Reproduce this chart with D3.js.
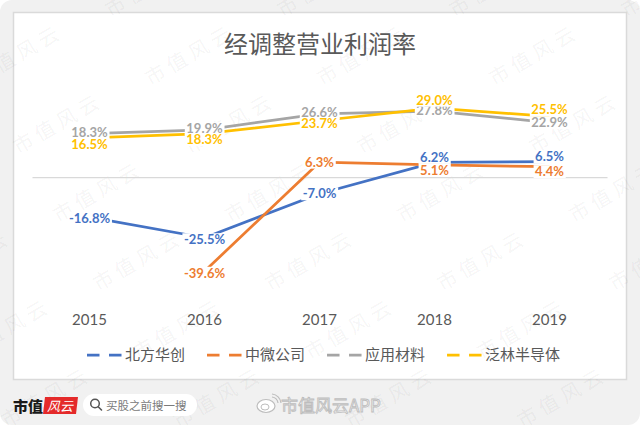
<!DOCTYPE html>
<html>
<head>
<meta charset="utf-8">
<script src="https://cdn.jsdelivr.net/npm/d3@7"></script>
<style>
  body { margin: 0; background: #fff; }
  svg { display: block; }
</style>
</head>
<body>
<div id="chart"></div>
<script>
// data
var years = ["2015", "2016", "2017", "2018", "2019"];
var names = ["北方华创", "中微公司", "应用材料", "泛林半导体"];
var naura = [-16.8, -25.5, -7.0, 6.2, 6.5];
var amec = [null, -39.6, 6.3, 5.1, 4.4];
var amat = [18.3, 19.9, 26.6, 27.8, 22.9];
var lam = [16.5, 18.3, 23.7, 29.0, 25.5];
var allSeries = [naura, amec, amat, lam];

// colours (excel office palette)
var colors = ["#4472C4", "#ED7D31", "#A5A5A5", "#FFC000"];
// label nudges so they sit like the original
var labelDy = [
    [1, 2, 0, -5, -5],
    [0, 2, 0, 5, 5],
    [-1, -1, -1, -1, 0],
    [7, 6, 3, -8, -7]
];

var W = 640, H = 425;
var svg = d3.select("#chart").append("svg")
    .attr("width", W).attr("height", H);

// outer grey panel + white chart box
svg.append("rect").attr("x", 0).attr("y", 0).attr("width", W).attr("height", H)
    .attr("rx", 12).attr("fill", "#f1f1f1");
svg.append("rect").attr("x", 13.5).attr("y", 12.5).attr("width", 613).attr("height", 367)
    .attr("fill", "#fff").attr("stroke", "#dadada").attr("stroke-width", 1.5);

// watermark tiles
var wm = svg.append("g");
for (var j = -1; j <= 6; j++) {
    for (var i = -3; i <= 3; i++) {
        var cx = 190 + 40 * j + 172 * i, cy = 55 + 68.5 * j;
        if (cx < -60 || cx > 700) continue;
        wm.append("text")
            .attr("transform", "translate(" + cx + "," + cy + ") rotate(-30)")
            .attr("text-anchor", "middle")
            .attr("dy", "0.35em")
            .style("font-family", "'Noto Sans CJK SC'")
            .style("font-size", "20px")
            .style("letter-spacing", "5px")
            .style("fill", "#000")
            .style("fill-opacity", 0.055)
            .text("市值风云");
    }
}

// title
svg.append("text")
    .attr("x", 320).attr("y", 53)
    .attr("text-anchor", "middle")
    .style("font-family", "'Noto Sans CJK SC'")
    .style("font-size", "24px")
    .style("fill", "#595959")
    .text("经调整营业利润率");

//scale
var xScale = d3.scaleBand().domain(years).range([32, 607]).padding(0);
var yScale = d3.scaleLinear().domain([-50, 40]).range([296, 82]);
var xc = function (d) { return xScale(d) + xScale.bandwidth() / 2; };

// zero line
svg.append("g")
    .attr("transform", "translate(0," + yScale(0) + ")")
    .call(d3.axisBottom(xScale).tickSize(0).tickFormat(""))
    .call(function (g) { g.select(".domain").attr("stroke", "#d9d9d9").attr("stroke-width", 1.3); });

// year labels at the bottom
var xAxis = svg.append("g")
    .attr("transform", "translate(0,311)")
    .call(d3.axisBottom(xScale).tickSize(0).tickPadding(3));
xAxis.select(".domain").remove();
xAxis.selectAll("text")
    .style("font-family", "Lato")
    .style("font-size", "15px")
    .style("fill", "#595959");

//make line
var line = d3.line()
    .defined(function (d) { return d.value != null; })
    .x(function (d) { return xc(d.name); })
    .y(function (d) { return yScale(d.value); });

var all = allSeries.map(function (vals, k) {
    return { name: names[k], values: years.map(function (y, i) { return { name: y, value: vals[i], dy: labelDy[k][i] }; }) };
});

all.forEach(function (s, k) {
    svg.append("path")
        .datum(s.values)
        .attr("d", line)
        .style("fill", "none")
        .style("stroke", colors[k])
        .style("stroke-width", 2.75)
        .style("stroke-linejoin", "round");
});

// data labels with white box behind (hides the line under them)
all.forEach(function (s, k) {
    s.values.forEach(function (d) {
        if (d.value == null) return;
        var g = svg.append("g")
            .attr("transform", "translate(" + xc(d.name) + "," + (yScale(d.value) + d.dy) + ")");
        var bg = g.append("rect").attr("fill", "#fff");
        var t = g.append("text")
            .attr("text-anchor", "middle")
            .attr("y", 4.6)
            .style("font-family", "Lato")
            .style("font-weight", "bold")
            .style("font-size", "13px")
            .style("fill", colors[k])
            .text(d.value.toFixed(1) + "%");
        var b = t.node().getBBox();
        bg.attr("x", b.x - 1.5).attr("y", -6.5).attr("width", b.width + 3).attr("height", 13);
    });
});

//legend
var lx = 87;
names.forEach(function (n, k) {
    var g = svg.append("g").attr("transform", "translate(" + lx + ",355)");
    g.append("line")
        .attr("x1", 0).attr("x2", 35).attr("y1", 0).attr("y2", 0)
        .style("stroke", colors[k])
        .style("stroke-width", 2.75)
        .style("stroke-dasharray", "12.5,9.5");
    var t = g.append("text")
        .attr("x", 38).attr("y", 5.3)
        .style("font-family", "'Noto Sans CJK SC'")
        .style("font-size", "15px")
        .style("fill", "#595959")
        .text(n);
    lx += 38 + t.node().getComputedTextLength() + 22;
});

// footer: logo, search pill, weibo mark
svg.append("text")
    .attr("x", 13).attr("y", 411.5)
    .style("font-family", "'Noto Sans CJK SC'")
    .style("font-weight", "900")
    .style("font-size", "15px")
    .style("fill", "#1a1a1a")
    .text("市值");
svg.append("path")
    .attr("d", "M45,397 L78,397 L76,414 L43,414 Z")
    .attr("fill", "#e42a2a");
svg.append("text")
    .attr("x", 60).attr("y", 410.5)
    .attr("text-anchor", "middle")
    .style("font-family", "'Noto Sans CJK SC'")
    .style("font-style", "italic")
    .style("font-size", "13px")
    .style("fill", "#fff")
    .text("风云");

svg.append("rect")
    .attr("x", 83).attr("y", 394).attr("width", 114).attr("height", 22).attr("rx", 11)
    .attr("fill", "#fff");
svg.append("circle").attr("cx", 95).attr("cy", 403.5).attr("r", 4.3)
    .attr("fill", "none").attr("stroke", "#555").attr("stroke-width", 1.5);
svg.append("line").attr("x1", 98.2).attr("y1", 406.8).attr("x2", 101.5).attr("y2", 410)
    .attr("stroke", "#555").attr("stroke-width", 1.6).attr("stroke-linecap", "round");
svg.append("text")
    .attr("x", 106).attr("y", 409.5)
    .style("font-family", "'Noto Sans CJK SC'")
    .style("font-size", "11.5px")
    .style("fill", "#7a7a7a")
    .text("买股之前搜一搜");

var wb = svg.append("g").attr("transform", "translate(266,406)");
wb.append("ellipse").attr("rx", 9).attr("ry", 6.5)
    .attr("fill", "#fff").attr("stroke", "#bdbdbd").attr("stroke-width", 1.2);
wb.append("ellipse").attr("cx", -1).attr("cy", 1).attr("rx", 4).attr("ry", 3)
    .attr("fill", "none").attr("stroke", "#bdbdbd").attr("stroke-width", 1);
wb.append("path").attr("d", "M6,-9 A7,7 0 0 1 12,-3 M6,-12 A10,10 0 0 1 15,-3")
    .attr("fill", "none").attr("stroke", "#bdbdbd").attr("stroke-width", 1.2);
svg.append("text")
    .attr("x", 281).attr("y", 412)
    .style("font-family", "'Noto Sans CJK SC'")
    .style("font-size", "17px")
    .style("fill", "#fff")
    .style("stroke", "#bdbdbd")
    .style("stroke-width", 0.9)
    .text("市值风云APP");
</script>
</body>
</html>
